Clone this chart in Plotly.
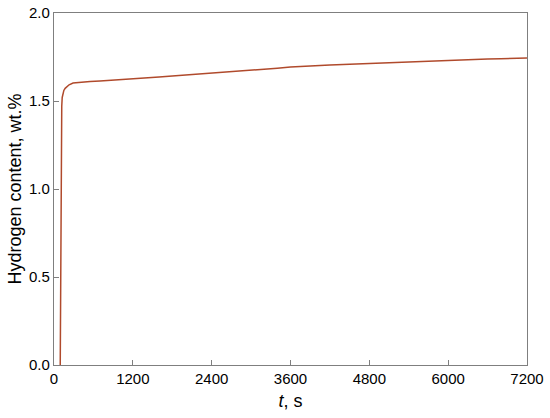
import plotly.graph_objects as go

# time, s
time_s = [95, 100, 104, 106, 108, 110, 113, 118, 125, 135, 150, 170, 195, 230, 290,
          400, 550, 700, 850, 1000, 1200, 1400, 1600, 1800, 2000, 2200, 2400,
          2600, 2800, 3000, 3200, 3400, 3600, 3800, 4000, 4200, 4400, 4600,
          4800, 5000, 5200, 5400, 5600, 5800, 6000, 6200, 6400, 6600, 6800,
          7000, 7200]

# hydrogen content, wt.%
hydrogen = [0.0, 0.35, 0.85, 1.06, 1.18, 1.27, 1.38, 1.47, 1.52, 1.545, 1.56, 1.572,
            1.582, 1.592, 1.602, 1.607, 1.611, 1.614, 1.617, 1.620, 1.624, 1.630,
            1.636, 1.642, 1.647, 1.652, 1.658, 1.663, 1.668, 1.674, 1.680, 1.686,
            1.693, 1.698, 1.700, 1.705, 1.708, 1.711, 1.714, 1.718, 1.721, 1.724,
            1.727, 1.729, 1.731, 1.734, 1.736, 1.738, 1.740, 1.742, 1.744]

x_ticks = [0, 1200, 2400, 3600, 4800, 6000, 7200]
y_ticks = [0.0, 0.5, 1.0, 1.5, 2.0]

fig = go.Figure()
fig.add_trace(go.Scatter(
    x=time_s,
    y=hydrogen,
    mode='lines',
    line=dict(color='#b04a2c', width=1.5),
    showlegend=False
))

axis_style = dict(
    showline=True,
    linecolor='#7f7f7f',
    linewidth=1.2,
    mirror=True,
    ticks='inside',
    ticklen=5,
    tickcolor='#7f7f7f',
    showgrid=False,
    zeroline=False,
    automargin=False,
    ticklabeloverflow='allow',
)

fig.update_xaxes(
    range=[0, 7200],
    tickvals=x_ticks,
    title=dict(text='<i>t</i>, s', standoff=8),
    **axis_style
)
fig.update_yaxes(
    range=[0, 2.0],
    tickvals=y_ticks,
    tickformat='.1f',
    title=dict(text='Hydrogen content, wt.%', standoff=2),
    **axis_style
)

fig.update_layout(
    width=550,
    height=418,
    margin=dict(l=54, r=23, t=13, b=53),
    plot_bgcolor='white',
    paper_bgcolor='white',
    font=dict(family='Liberation Sans, Arial, sans-serif', size=15, color='black'),
)

# drop the default page margin so the figure sits at the window's corner
fig.write_html(
    "out.html",
    config={'displayModeBar': False},
    post_script="document.body.style.margin='0';"
)
